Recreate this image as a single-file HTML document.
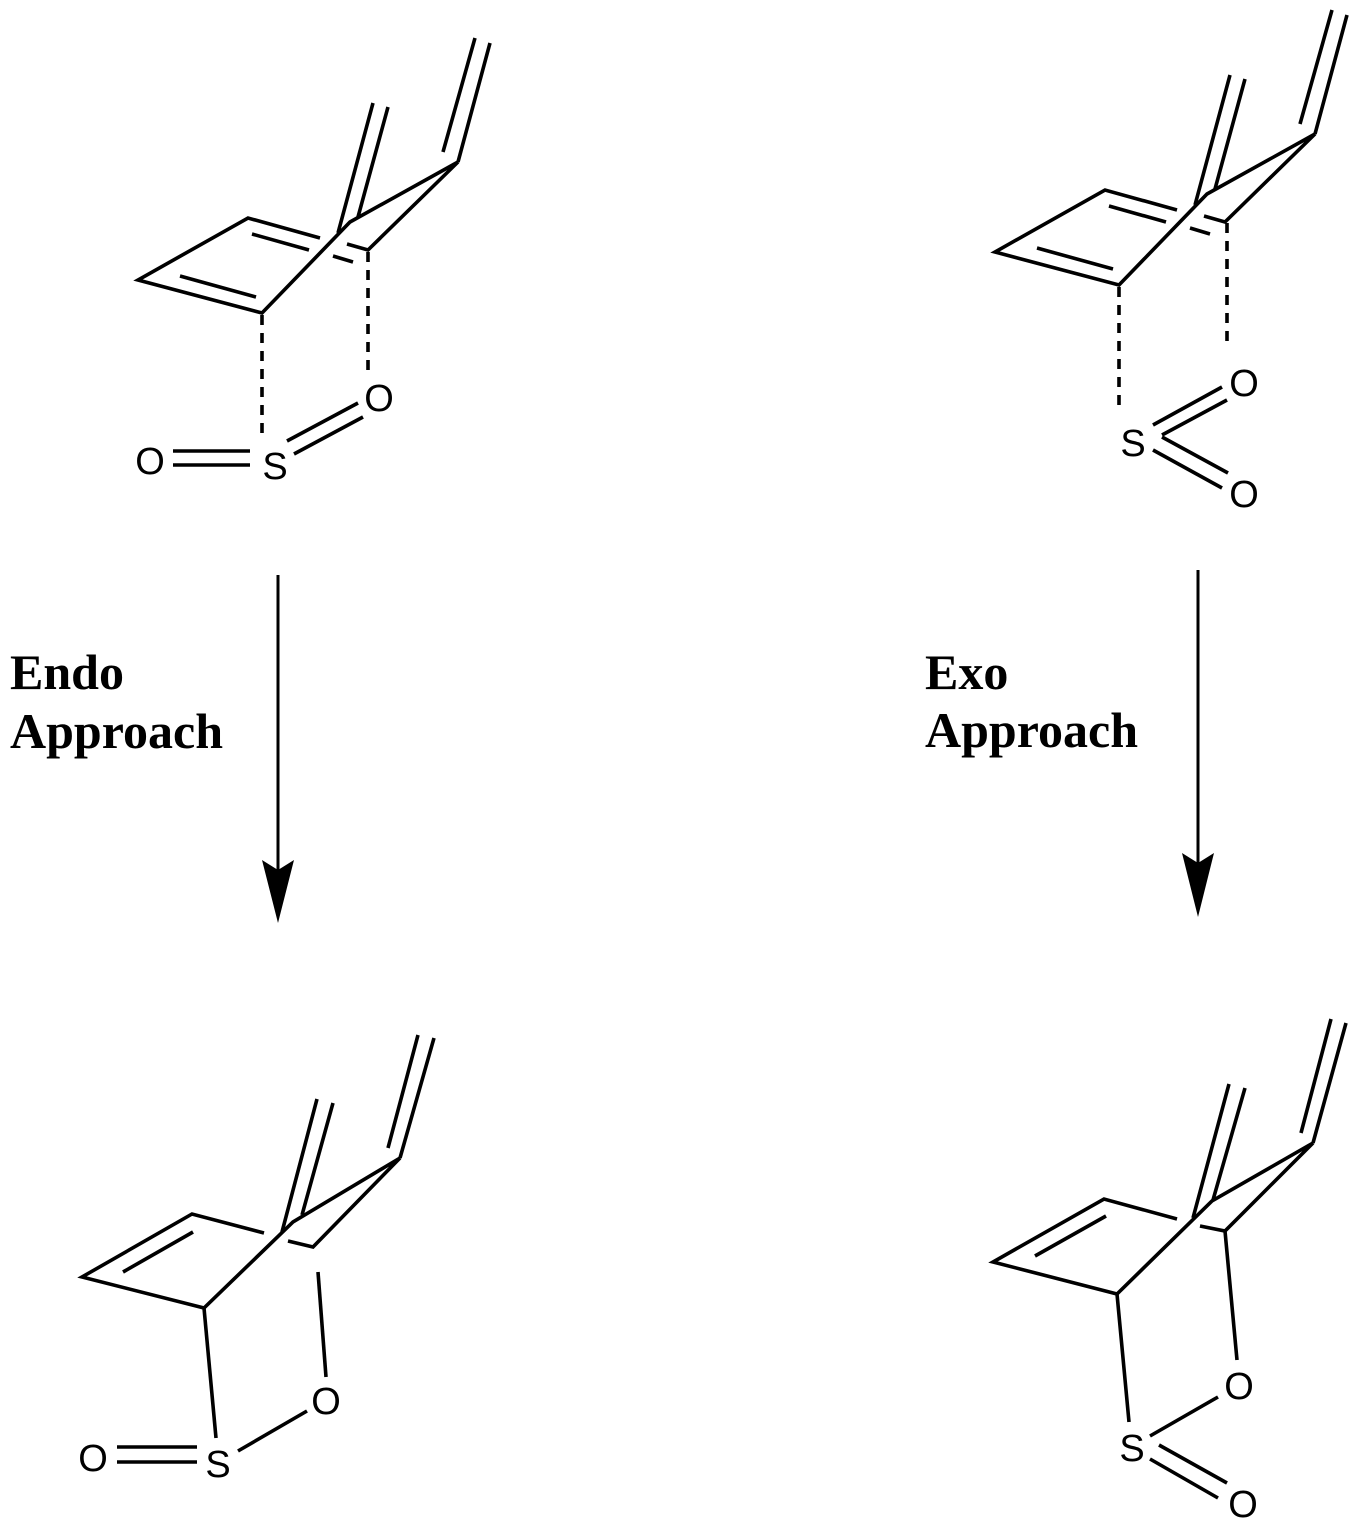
<!DOCTYPE html>
<html><head><meta charset="utf-8"><style>
html,body{margin:0;padding:0;background:#fff;}
svg{display:block;}
.b{stroke:#000;stroke-width:3.6;fill:none;stroke-linecap:butt;}
.d{stroke:#000;stroke-width:3.6;fill:none;stroke-dasharray:10,8;}
.a{font-family:"Liberation Sans",sans-serif;font-size:38px;fill:#000;text-anchor:middle;}
.l{font-family:"Liberation Serif",serif;font-size:50px;font-weight:bold;fill:#000;}
</style></head><body>
<svg width="1359" height="1528" viewBox="0 0 1359 1528" xmlns="http://www.w3.org/2000/svg">
<!-- Top endo -->
<g class="b">
<polyline points="320,238 248,218 138,280 262,313 350,222 458,162 368,250 347,244"/>
<line x1="180" y1="276" x2="256" y2="297"/>
<line x1="252" y1="234" x2="309" y2="250"/>
<line x1="333" y1="256" x2="353" y2="262"/>
<line x1="338" y1="233" x2="373" y2="103"/>
<line x1="358" y1="217" x2="388" y2="107"/>
<line x1="458" y1="162" x2="490" y2="43"/>
<line x1="443" y1="152" x2="475" y2="38"/>
<line x1="173" y1="451" x2="250" y2="451"/>
<line x1="173" y1="465" x2="250" y2="465"/>
<line x1="287" y1="441" x2="358" y2="403"/>
<line x1="294" y1="454" x2="363" y2="417"/>
</g>
<line class="d" x1="262" y1="315" x2="262" y2="440"/>
<line class="d" x1="368" y1="252" x2="368" y2="376"/>
<text class="a" x="379" y="411">O</text>
<text class="a" x="275" y="479">S</text>
<text class="a" x="150" y="474">O</text>

<!-- Top exo (translated +857,-28) -->
<g transform="translate(857,-28)">
<g class="b">
<polyline points="320,238 248,218 138,280 262,313 350,222 458,162 368,250 347,244"/>
<line x1="180" y1="276" x2="256" y2="297"/>
<line x1="252" y1="234" x2="309" y2="250"/>
<line x1="333" y1="256" x2="353" y2="262"/>
<line x1="338" y1="233" x2="373" y2="103"/>
<line x1="358" y1="217" x2="388" y2="107"/>
<line x1="458" y1="162" x2="490" y2="43"/>
<line x1="443" y1="152" x2="475" y2="38"/>
</g>
</g>
<line class="d" x1="1119" y1="287" x2="1119" y2="410"/>
<line class="d" x1="1227" y1="223" x2="1227" y2="348"/>
<g class="b">
<line x1="1153" y1="425" x2="1222" y2="387"/>
<line x1="1162" y1="435" x2="1227" y2="400"/>
<line x1="1162" y1="437" x2="1228" y2="473"/>
<line x1="1153" y1="450" x2="1222" y2="488"/>
</g>
<text class="a" x="1244" y="396">O</text>
<text class="a" x="1133" y="456">S</text>
<text class="a" x="1244" y="507">O</text>

<!-- Arrows and labels -->
<line x1="278" y1="575" x2="278" y2="870" stroke="#000" stroke-width="3"/>
<polygon points="262,860 278,870 294,860 278,923" fill="#000"/>
<line x1="1198" y1="570" x2="1198" y2="865" stroke="#000" stroke-width="3"/>
<polygon points="1182,853 1198,863 1214,853 1198,917" fill="#000"/>
<text class="l" x="10" y="689">Endo</text>
<text class="l" x="10" y="748">Approach</text>
<text class="l" x="925" y="689">Exo</text>
<text class="l" x="925" y="747">Approach</text>

<!-- Bottom endo -->
<g class="b">
<polyline points="264,1233 192,1214 82,1277 204,1308 293,1222 400,1158 313,1247 288,1241"/>
<line x1="123" y1="1272" x2="193" y2="1232"/>
<line x1="282" y1="1232" x2="317" y2="1099"/>
<line x1="302" y1="1215" x2="333" y2="1103"/>
<line x1="400" y1="1158" x2="434" y2="1038"/>
<line x1="388" y1="1148" x2="418" y2="1035"/>
<line x1="204" y1="1308" x2="216" y2="1438"/>
<line x1="318" y1="1272" x2="326" y2="1377"/>
<line x1="238" y1="1451" x2="307" y2="1411"/>
<line x1="117" y1="1447" x2="197" y2="1447"/>
<line x1="117" y1="1462" x2="197" y2="1462"/>
</g>
<text class="a" x="326" y="1414">O</text>
<text class="a" x="218" y="1477">S</text>
<text class="a" x="93" y="1471">O</text>

<!-- Bottom exo -->
<g class="b">
<polyline points="1177,1219 1104,1199 993,1262 1117,1294 1212,1201 1313,1143 1225,1231 1200,1226"/>
<line x1="1035" y1="1256" x2="1106" y2="1216"/>
<line x1="1193" y1="1218" x2="1229" y2="1084"/>
<line x1="1213" y1="1200" x2="1245" y2="1088"/>
<line x1="1313" y1="1143" x2="1346" y2="1023"/>
<line x1="1301" y1="1133" x2="1331" y2="1019"/>
<line x1="1117" y1="1294" x2="1129" y2="1422"/>
<line x1="1225" y1="1231" x2="1237" y2="1360"/>
<line x1="1150" y1="1436" x2="1218" y2="1397"/>
<line x1="1159" y1="1445" x2="1227" y2="1483"/>
<line x1="1150" y1="1459" x2="1218" y2="1498"/>
</g>
<text class="a" x="1239" y="1399">O</text>
<text class="a" x="1132" y="1461">S</text>
<text class="a" x="1243" y="1517">O</text>
</svg>
</body></html>
